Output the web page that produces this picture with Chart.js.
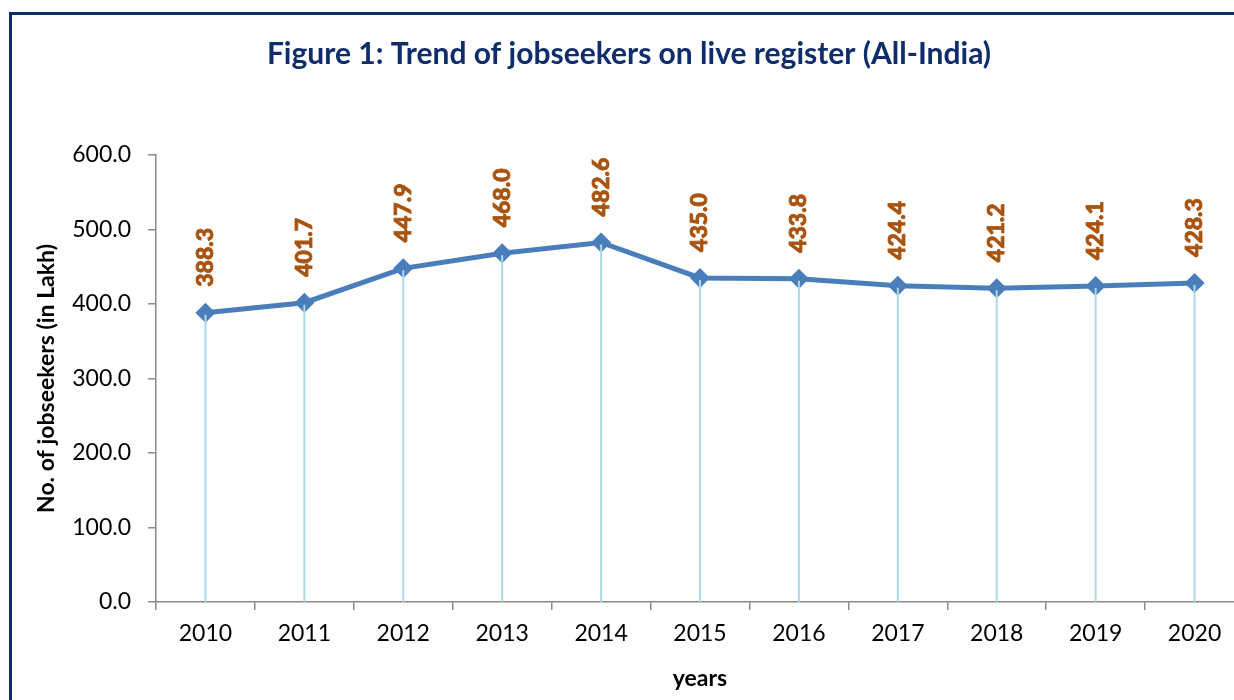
<!DOCTYPE html>
<html lang="en">
<head>
  <meta charset="UTF-8" />
  <title>Trend of jobseekers on live register</title>
  <script src="https://cdn.jsdelivr.net/npm/chart.js"></script>
  <style>
    body {
      margin: 0;
      background: #fff;
      overflow: hidden;
      width: 1234px;
      height: 700px;
      position: relative;
    }

    .frame {
      position: absolute;
      left: 9px;
      top: 12px;
      width: 1300px;
      height: 800px;
      border: 3px solid #0f2c6b;
    }

    #jobChart {
      position: absolute;
      left: 0;
      top: 0;
    }
  </style>
</head>
<body>
  <div class="frame"></div>
  <canvas id="jobChart" width="1258" height="700"></canvas>

  <script>
    const years = ["2010", "2011", "2012", "2013", "2014", "2015", "2016", "2017", "2018", "2019", "2020"];
    const jobseekers = [388.3, 401.7, 447.9, 468.0, 482.6, 435.0, 433.8, 424.4, 421.2, 424.1, 428.3];
    const yTicks = [0, 100, 200, 300, 400, 500, 600];

    const fontFamily = "Lato, 'Open Sans', sans-serif";

    // light blue drop lines from each point down to the axis
    const dropLines = {
      id: 'dropLines',
      afterDatasetsDraw(chart) {
        const ctx = chart.ctx;
        const bottom = chart.chartArea.bottom;
        ctx.save();
        ctx.strokeStyle = '#add8e6';
        ctx.lineWidth = 2;
        chart.getDatasetMeta(0).data.forEach(pt => {
          ctx.beginPath();
          ctx.moveTo(pt.x, pt.y + 2);
          ctx.lineTo(pt.x, bottom);
          ctx.stroke();
        });
        ctx.restore();
      }
    };

    // rotated value labels above each point
    const valueLabels = {
      id: 'valueLabels',
      afterDatasetsDraw(chart) {
        const ctx = chart.ctx;
        const values = chart.data.datasets[0].data;
        ctx.save();
        ctx.font = "900 23px " + fontFamily;
        ctx.fillStyle = '#a8540f';
        ctx.strokeStyle = '#a8540f';
        ctx.lineWidth = 0.8;
        ctx.textAlign = 'left';
        ctx.textBaseline = 'middle';
        chart.getDatasetMeta(0).data.forEach((pt, i) => {
          const txt = values[i].toFixed(1);
          ctx.save();
          ctx.translate(pt.x, pt.y - 26);
          ctx.rotate(-Math.PI / 2);
          ctx.fillText(txt, 0, 0);
          ctx.strokeText(txt, 0, 0);
          ctx.restore();
        });
        ctx.restore();
      }
    };

    new Chart(document.getElementById('jobChart'), {
      type: 'line',
      data: {
        labels: years,
        datasets: [{
          label: 'Jobseekers',
          data: jobseekers,
          borderColor: '#4a7ebb',
          backgroundColor: '#4a7ebb',
          borderWidth: 5,
          pointStyle: 'rectRot',
          pointRadius: 10,
          pointBorderWidth: 0,
          pointBackgroundColor: '#4a7ebb',
          tension: 0,
          fill: false
        }]
      },
      options: {
        responsive: false,
        devicePixelRatio: 1,
        animation: false,
        layout: { padding: { left: 14, right: 14, top: 0, bottom: 0 } },
        plugins: {
          legend: { display: false },
          tooltip: { enabled: false },
          title: {
            display: true,
            text: 'Figure 1: Trend of jobseekers on live register (All-India)',
            color: '#0f2c6b',
            font: { family: fontFamily, size: 30, weight: 'bold' },
            padding: { top: 36, bottom: 83 }
          }
        },
        scales: {
          x: {
            offset: true,
            grid: {
              offset: true,
              drawOnChartArea: false,
              drawTicks: true,
              tickLength: 8,
              color: '#898989',
              lineWidth: 1.5
            },
            border: { color: '#898989', width: 1.5 },
            ticks: {
              color: '#000',
              padding: 10,
              maxRotation: 0,
              font: { family: fontFamily, size: 23 }
            },
            title: {
              display: true,
              text: 'years',
              color: '#000',
              font: { family: fontFamily, size: 23, weight: 'bold' },
              padding: { top: 0, bottom: 8 }
            },
            afterFit(scale) { scale.height = 98; }
          },
          y: {
            min: 0,
            max: 600,
            afterBuildTicks(scale) { scale.ticks = yTicks.map(v => ({ value: v })); },
            grid: {
              drawOnChartArea: false,
              drawTicks: true,
              tickLength: 8,
              color: '#898989',
              lineWidth: 1.5
            },
            border: { color: '#898989', width: 1.5 },
            ticks: {
              color: '#000',
              padding: 17,
              font: { family: fontFamily, size: 23 },
              callback: v => v.toFixed(1)
            },
            title: {
              display: true,
              text: 'No. of jobseekers (in Lakh)',
              color: '#000',
              font: { family: fontFamily, size: 23, weight: 'bold' },
              padding: { top: 19, bottom: 0 }
            },
            afterFit(scale) { scale.width = 142; }
          }
        }
      },
      plugins: [dropLines, valueLabels]
    });
  </script>
</body>
</html>
